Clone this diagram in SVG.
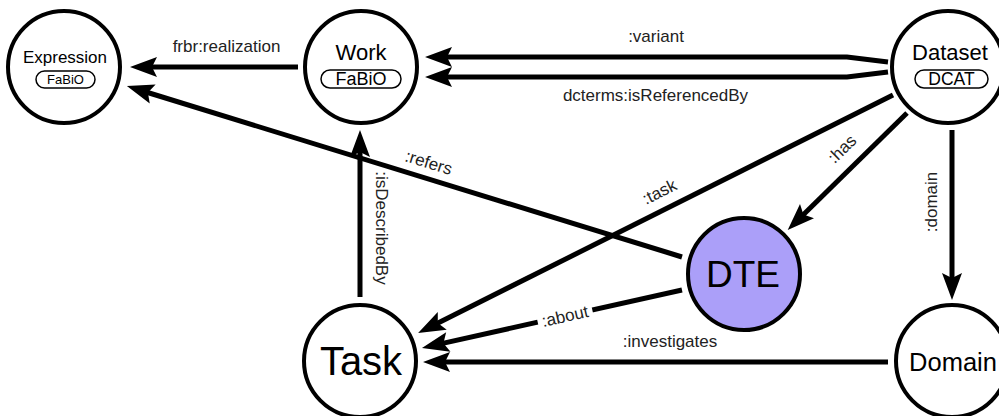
<svg xmlns="http://www.w3.org/2000/svg" width="999" height="416" viewBox="0 0 999 416">
<style>
.node{fill:#fff;stroke:#000;stroke-width:4}
.dte{fill:#ab9ff9}
.badge{fill:#fff;stroke:#000;stroke-width:1.5}
.nt{font-family:"Liberation Sans",Arial,sans-serif;fill:#000;text-anchor:middle}
.edge{fill:none;stroke:#000;stroke-width:5;marker-end:url(#arr)}
.lbl{font-family:"Liberation Sans",Arial,sans-serif;font-size:17px;fill:#222;text-anchor:middle}
</style>
<defs>
<marker id="arr" viewBox="-28 -11 29 22" markerWidth="29" markerHeight="22" refX="-20" refY="0" orient="auto" markerUnits="userSpaceOnUse" overflow="visible">
<path d="M0,0 L-27,-10 L-22,0 L-27,10 Z" fill="#000"/>
</marker>
</defs>
<rect width="999" height="416" fill="#fff"/>
<g id="connectors">
<path class="edge" d="M298,67 L150,67"/>
<path class="edge" d="M888,62 L847,57 L445,57"/>
<path class="edge" d="M888,72 L847,77 L445,77"/>
<path class="edge" d="M360,297 L360,150"/>
<path class="edge" d="M682,257 L146,92"/>
<path class="edge" d="M893,95 L436,324"/>
<path class="edge" d="M907,113 L802,216"/>
<path class="edge" d="M952,130 L952,280"/>
<path class="edge" d="M682,290 L441.5,343.6"/>
<path class="edge" d="M888,362 L443,362"/>
<text class="lbl" x="226.5" y="52">frbr:realization</text>
<text class="lbl" x="656" y="42">:variant</text>
<text class="lbl" x="655.5" y="101">dcterms:isReferencedBy</text>
<text class="lbl" transform="translate(427,168) rotate(17.1)">:refers</text>
<text class="lbl" transform="translate(376,228) rotate(90)">:isDescribedBy</text>
<text class="lbl" transform="translate(662,197) rotate(-26.6)">:task</text>
<text class="lbl" transform="translate(846,153) rotate(-44.5)">:has</text>
<text class="lbl" transform="translate(937,202) rotate(-90)">:domain</text>
<g transform="translate(565,316) rotate(-12.6)">
<rect x="-28" y="-11" width="56" height="22" fill="#fff"/>
<text class="lbl" x="0" y="6">:about</text>
</g>
<text class="lbl" x="670" y="347">:investigates</text>
</g>
<g id="expression">
<circle class="node" cx="64" cy="67" r="56"/>
<text class="nt" x="65" y="63" font-size="17">Expression</text>
<rect class="badge" x="36" y="71" width="59" height="17" rx="8.5"/>
<text class="nt" x="65.5" y="84" font-size="13">FaBiO</text>
</g>
<g id="work">
<circle class="node" cx="361" cy="67" r="56"/>
<text class="nt" x="361" y="60" font-size="22">Work</text>
<rect class="badge" x="321" y="70" width="80" height="18" rx="9"/>
<text class="nt" x="361" y="85" font-size="18">FaBiO</text>
</g>
<g id="dataset">
<circle class="node" cx="948" cy="67" r="56"/>
<text class="nt" x="950" y="60" font-size="22">Dataset</text>
<rect class="badge" x="915" y="70" width="73" height="18" rx="9"/>
<text class="nt" x="951.5" y="85" font-size="17.5">DCAT</text>
</g>
<g id="dte">
<circle class="node dte" cx="744" cy="274" r="56"/>
<text class="nt" x="743" y="287" font-size="37">DTE</text>
</g>
<g id="task">
<circle class="node" cx="360" cy="361" r="56"/>
<text class="nt" x="361" y="375" font-size="40">Task</text>
</g>
<g id="domain">
<circle class="node" cx="952" cy="361" r="56"/>
<text class="nt" x="953" y="371" font-size="25.5">Domain</text>
</g>
</svg>
